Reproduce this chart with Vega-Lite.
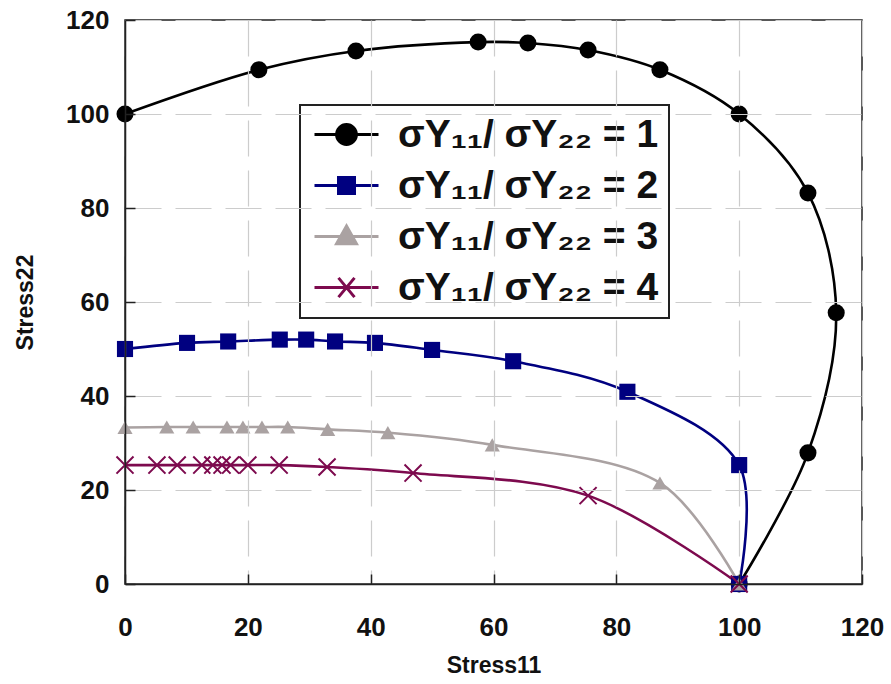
{
  "$schema": "https://vega.github.io/schema/vega-lite/v6.json",
  "width": 737,
  "height": 564,
  "autosize": {"type": "none"},
  "padding": {"left": 125, "top": 20, "right": 29, "bottom": 100},
  "background": "white",
  "config": {
    "view": {"stroke": "#222222", "strokeWidth": 1.5},
    "font": "Liberation Sans",
    "axis": {
      "labelFont": "Liberation Sans",
      "labelFontSize": 26,
      "labelFontWeight": "bold",
      "labelColor": "#111111",
      "titleFont": "Liberation Sans",
      "titleFontSize": 23,
      "titleFontWeight": "bold",
      "titleColor": "#111111",
      "ticks": true,
      "tickSize": -10,
      "tickColor": "#222222",
      "tickWidth": 1.5,
      "domainColor": "#222222",
      "domainWidth": 1.5,
      "gridColor": "#cccccc",
      "gridDash": [36, 14],
      "gridWidth": 1.2,
      "labelFlush": false,
      "labelOverlap": false
    }
  },
  "data": {
    "values": [
      {"s": "1", "i": 1, "x": 0, "y": 100},
      {"s": "1", "i": 2, "x": 21.8, "y": 109.4},
      {"s": "1", "i": 3, "x": 37.6, "y": 113.4},
      {"s": "1", "i": 4, "x": 57.5, "y": 115.3},
      {"s": "1", "i": 5, "x": 65.6, "y": 115.1},
      {"s": "1", "i": 6, "x": 75.4, "y": 113.6},
      {"s": "1", "i": 7, "x": 87.1, "y": 109.4},
      {"s": "1", "i": 8, "x": 100, "y": 100},
      {"s": "1", "i": 9, "x": 111.2, "y": 83.2},
      {"s": "1", "i": 10, "x": 115.8, "y": 57.7},
      {"s": "1", "i": 11, "x": 111.2, "y": 27.9},
      {"s": "1", "i": 12, "x": 100, "y": 0},
      {"s": "2", "i": 1, "x": 0, "y": 50},
      {"s": "2", "i": 2, "x": 10.1, "y": 51.3},
      {"s": "2", "i": 3, "x": 16.8, "y": 51.6},
      {"s": "2", "i": 4, "x": 25.2, "y": 52},
      {"s": "2", "i": 5, "x": 29.5, "y": 52},
      {"s": "2", "i": 6, "x": 34.2, "y": 51.6},
      {"s": "2", "i": 7, "x": 40.7, "y": 51.3},
      {"s": "2", "i": 8, "x": 50, "y": 49.8},
      {"s": "2", "i": 9, "x": 63.2, "y": 47.4},
      {"s": "2", "i": 10, "x": 81.8, "y": 40.9},
      {"s": "2", "i": 11, "x": 100, "y": 25.3},
      {"s": "2", "i": 12, "x": 100, "y": 0},
      {"s": "3", "i": 1, "x": 0, "y": 33.3},
      {"s": "3", "i": 2, "x": 6.8, "y": 33.4},
      {"s": "3", "i": 3, "x": 11.1, "y": 33.4},
      {"s": "3", "i": 4, "x": 16.6, "y": 33.4},
      {"s": "3", "i": 5, "x": 19.2, "y": 33.4},
      {"s": "3", "i": 6, "x": 22.3, "y": 33.4},
      {"s": "3", "i": 7, "x": 26.5, "y": 33.4},
      {"s": "3", "i": 8, "x": 33, "y": 32.9},
      {"s": "3", "i": 9, "x": 42.8, "y": 32.2},
      {"s": "3", "i": 10, "x": 59.8, "y": 29.6},
      {"s": "3", "i": 11, "x": 87.1, "y": 21.5},
      {"s": "3", "i": 12, "x": 100, "y": 0},
      {"s": "4", "i": 1, "x": 0, "y": 25.3},
      {"s": "4", "i": 2, "x": 5.2, "y": 25.3},
      {"s": "4", "i": 3, "x": 8.5, "y": 25.3},
      {"s": "4", "i": 4, "x": 12.5, "y": 25.3},
      {"s": "4", "i": 5, "x": 14.3, "y": 25.3},
      {"s": "4", "i": 6, "x": 15.8, "y": 25.3},
      {"s": "4", "i": 7, "x": 17.2, "y": 25.3},
      {"s": "4", "i": 8, "x": 20, "y": 25.3},
      {"s": "4", "i": 9, "x": 25.1, "y": 25.3},
      {"s": "4", "i": 10, "x": 32.9, "y": 24.9},
      {"s": "4", "i": 11, "x": 46.9, "y": 23.6},
      {"s": "4", "i": 12, "x": 75.4, "y": 18.8},
      {"s": "4", "i": 13, "x": 100, "y": 0}
    ]
  },
  "encoding": {
    "x": {
      "field": "x",
      "type": "quantitative",
      "scale": {"domain": [0, 120], "nice": false, "zero": false},
      "axis": {"values": [0, 20, 40, 60, 80, 100, 120], "title": "Stress11", "labelPadding": 40, "titlePadding": 14, "zindex": 1}
    },
    "y": {
      "field": "y",
      "type": "quantitative",
      "scale": {"domain": [0, 120], "nice": false, "zero": false},
      "axis": {"values": [0, 20, 40, 60, 80, 100, 120], "title": "Stress22", "labelPadding": 26, "titlePadding": 28, "zindex": 1}
    },
    "color": {
      "field": "s",
      "type": "nominal",
      "scale": {"domain": ["1", "2", "3", "4"], "range": ["#000000", "#000080", "#aaa2a2", "#7d0a4e"]},
      "legend": {
        "orient": "none",
        "legendX": 175,
        "legendY": 85,
        "title": null,
        "labelExpr": "'σY₁₁/ σY₂₂ = ' + datum.label",
        "labelFont": "Liberation Sans",
        "labelFontSize": 39,
        "labelFontWeight": "bold",
        "labelColor": "#111111",
        "labelLimit": 0,
        "strokeColor": "#222222",
        "fillColor": "white",
        "padding": 10,
        "rowPadding": 11,
        "symbolSize": 1024,
        "symbolStrokeWidth": 3,
        "symbolOffset": 17,
        "labelOffset": 32,
        "encode": {
          "legend": {"update": {"strokeWidth": {"value": 2}}},
          "symbols": {
            "update": {
              "shape": {"signal": "datum.value == '1' ? 'M-2,0H2M0.62,0A0.62,0.62,0,1,1,-0.62,0A0.62,0.62,0,1,1,0.62,0Z' : datum.value == '2' ? 'M-2,0H2M-0.5,-0.5H0.5V0.5H-0.5Z' : datum.value == '3' ? 'M-2,0H2M0,-0.65L0.62,0.45H-0.62Z' : 'M-2,0H2M-0.5,-0.6L0.5,0.6M-0.5,0.6L0.5,-0.6'"},
              "fill": {"signal": "scale('color', datum.value)"},
              "stroke": {"signal": "scale('color', datum.value)"},
              "strokeWidth": {"value": 3},
              "opacity": {"value": 1},
              "fillOpacity": {"value": 1}
            }
          }
        }
      }
    },
    "order": {"field": "i", "type": "quantitative"}
  },
  "layer": [
    {"mark": {"type": "line", "interpolate": "catmull-rom", "strokeWidth": 2.6}},
    {
      "transform": [{"filter": "datum.s != '4'"}],
      "mark": {"type": "point", "filled": true, "opacity": 1},
      "encoding": {
        "shape": {
          "field": "s",
          "type": "nominal",
          "scale": {"domain": ["1", "2", "3"], "range": ["circle", "square", "triangle-up"]},
          "legend": null
        },
        "size": {
          "field": "s",
          "type": "nominal",
          "scale": {"domain": ["1", "2", "3"], "range": [290, 230, 280]},
          "legend": null
        }
      }
    },
    {
      "transform": [{"filter": "datum.s == '4'"}],
      "mark": {"type": "point", "filled": false, "shape": "M-1,-1L1,1M-1,1L1,-1", "size": 290, "strokeWidth": 2, "opacity": 1}
    }
  ]
}
